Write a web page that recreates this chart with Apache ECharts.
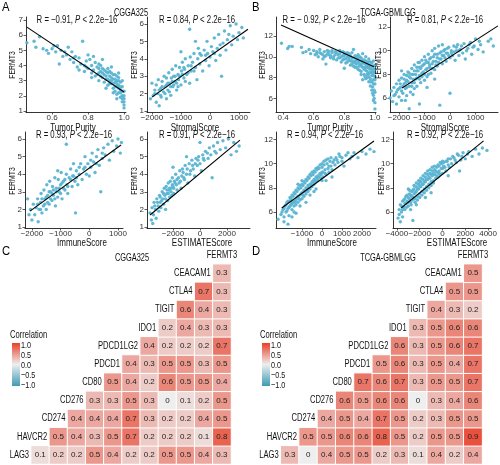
<!DOCTYPE html>
<html><head><meta charset="utf-8">
<script src="https://cdn.jsdelivr.net/npm/echarts/dist/echarts.min.js"></script>
<style>html,body{margin:0;padding:0;background:#fff}#c{width:500px;height:465px}</style>
</head><body><div id="c"></div>
<script>
// ---------------- DATA ----------------
const ptsA1 = [[0.46,5.5],[0.50,5.6],[0.51,5.2],[0.53,5.9],[0.55,5.1],[0.57,5.0],[0.58,4.8],[0.60,5.1],[0.62,4.9],[0.63,5.3],[0.64,4.1],[0.65,5.0],[0.66,4.6],[0.68,4.7],[0.69,5.2],[0.70,4.4],[0.71,4.9],[0.72,4.2],[0.73,4.6],[0.74,3.9],[0.75,4.5],[0.76,4.1],[0.77,5.6],[0.78,4.0],[0.78,3.6],[0.79,4.3],[0.80,3.8],[0.81,4.4],[0.82,3.5],[0.82,4.0],[0.83,3.7],[0.84,4.2],[0.84,3.3],[0.85,3.9],[0.86,3.5],[0.86,3.0],[0.87,4.0],[0.87,3.6],[0.88,3.2],[0.88,3.8],[0.89,3.4],[0.89,2.9],[0.90,3.6],[0.90,3.1],[0.91,3.8],[0.91,2.7],[0.92,3.3],[0.92,3.0],[0.93,3.5],[0.93,2.8],[0.94,3.1],[0.94,2.5],[0.95,3.4],[0.95,2.9],[0.95,2.3],[0.96,3.0],[0.96,2.6],[0.96,2.1],[0.97,3.2],[0.97,2.7],[0.97,2.2],[0.98,2.9],[0.98,2.4],[0.98,1.9],[0.99,2.6],[0.99,2.0],[0.99,1.6],[1.0,2.3],[1.0,1.8],[1.0,1.4],[1.0,1.2],[0.99,3.0],[0.97,3.5],[0.93,3.9],[0.88,4.4],[0.86,4.1],[0.83,4.6],[0.80,4.7],[0.75,3.7],
  [0.85,3.4],[0.86,3.8],[0.87,3.3],[0.88,3.5],[0.89,3.7],[0.90,3.3],[0.91,3.5],[0.91,3.1],[0.92,3.6],[0.92,2.8],[0.93,3.2],[0.93,3.0],[0.94,3.4],[0.94,2.8],[0.95,3.1],[0.95,2.6],[0.96,2.8],[0.96,3.3],[0.97,2.5],[0.97,3.0],[0.98,2.6],[0.98,2.2],[0.99,2.3],[0.99,1.8],[1.0,2.0],[1.0,1.6],[0.94,2.2],[0.96,1.8],[0.90,2.5],[0.82,3.2],[0.79,3.9],[0.72,4.5],[0.67,4.9],[0.61,5.3]];
const ptsA2 = [[-2050,1.7],[-2000,2.6],[-1950,1.9],[-1900,2.2],[-1850,1.5],[-1850,2.5],[-1800,2.0],[-1780,2.8],[-1750,1.3],[-1700,2.3],[-1680,1.8],[-1650,2.7],[-1600,2.1],[-1580,3.0],[-1550,2.4],[-1500,1.7],[-1500,2.9],[-1450,2.2],[-1420,3.2],[-1400,2.6],[-1350,1.9],[-1330,2.9],[-1300,3.4],[-1280,2.4],[-1250,3.0],[-1200,2.7],[-1180,3.6],[-1150,2.2],[-1100,3.1],[-1080,2.8],[-1050,3.5],[-1000,2.5],[-980,3.3],[-950,3.8],[-900,2.9],[-880,3.4],[-850,4.0],[-800,3.1],[-750,3.6],[-700,2.6],[-680,4.1],[-650,3.3],[-600,3.8],[-550,4.3],[-500,3.5],[-450,2.8],[-420,4.0],[-400,4.6],[-350,3.7],[-300,4.2],[-250,3.3],[-200,4.5],[-150,3.9],[-100,5.0],[-80,4.3],[-30,3.6],[0,4.1],[50,4.7],[100,4.4],[150,5.2],[200,3.9],[250,4.6],[300,5.4],[350,4.2],[400,3.0],[450,4.9],[500,5.6],[550,4.5],[600,5.1],[700,5.9],[750,4.8],[800,5.3],[900,6.0],[950,5.1],[1000,5.5],[1100,5.8],[1150,5.2],[-500,5.0],[-1000,4.4],[-700,5.7],
  [-1900,2.0],[-1750,2.2],[-1700,1.9],[-1650,2.4],[-1550,2.0],[-1500,2.5],[-1450,2.6],[-1400,2.1],[-1350,2.4],[-1300,2.7],[-1250,2.5],[-1200,3.0],[-1150,2.6],[-1100,2.4],[-1050,3.0],[-950,3.1],[-900,3.5],[-850,2.7],[-750,3.2],[-650,3.6],[-550,3.3],[-350,4.3],[-150,4.2],[150,4.3],[350,4.8],[650,5.4]];
const ptsA3 = [[-2150,2.6],[-2100,1.7],[-2050,2.0],[-2000,1.4],[-1950,2.3],[-1900,1.7],[-1850,2.1],[-1800,2.6],[-1780,1.3],[-1750,2.0],[-1700,2.4],[-1680,2.9],[-1650,1.8],[-1600,2.2],[-1580,3.1],[-1550,2.6],[-1500,2.0],[-1480,3.4],[-1450,2.8],[-1400,2.3],[-1380,3.6],[-1350,3.0],[-1300,2.5],[-1280,3.3],[-1250,2.8],[-1200,3.8],[-1180,2.2],[-1150,3.2],[-1100,2.7],[-1080,3.7],[-1050,3.0],[-1000,3.4],[-980,4.1],[-950,2.6],[-900,3.6],[-850,3.1],[-800,4.0],[-780,3.4],[-750,2.9],[-700,3.8],[-650,4.3],[-600,3.3],[-580,3.9],[-550,4.6],[-500,3.6],[-480,1.8],[-450,4.2],[-400,3.4],[-350,4.0],[-300,4.6],[-250,3.7],[-200,4.3],[-150,5.0],[-100,4.0],[-50,4.6],[0,3.9],[50,4.4],[100,5.2],[150,4.7],[200,4.1],[250,5.0],[300,5.4],[350,4.5],[400,3.0],[450,4.9],[500,5.5],[550,5.1],[650,5.7],[700,4.8],[800,5.9],[850,5.3],[950,5.6],[1000,6.0],[1080,5.2],[1120,5.8],[-800,5.7],[-1100,4.2],
  [-1800,2.3],[-1700,2.0],[-1650,2.6],[-1550,2.3],[-1500,2.7],[-1450,2.4],[-1400,3.0],[-1350,2.6],[-1300,2.9],[-1250,3.1],[-1200,2.6],[-1150,3.0],[-1050,3.2],[-1000,2.9],[-950,3.5],[-900,3.2],[-850,3.7],[-750,3.3],[-650,3.7],[-550,3.9],[-450,3.8],[-350,4.4],[-150,4.4],[50,4.8],[250,4.6],[450,5.2]];
const ptsA4 = [[-3700,1.8],[-3600,1.4],[-3550,2.1],[-3450,1.7],[-3400,2.4],[-3300,2.0],[-3250,1.5],[-3200,2.6],[-3100,2.2],[-3050,1.9],[-3000,2.8],[-2950,2.4],[-2900,2.1],[-2800,3.0],[-2750,2.6],[-2700,2.3],[-2650,3.2],[-2600,2.8],[-2550,2.0],[-2500,3.3],[-2450,2.9],[-2400,2.5],[-2350,3.5],[-2300,3.1],[-2250,2.7],[-2200,3.6],[-2150,3.2],[-2100,2.8],[-2050,3.8],[-2000,3.3],[-1950,2.9],[-1900,3.6],[-1800,4.0],[-1750,3.4],[-1700,3.1],[-1600,3.8],[-1500,4.2],[-1450,3.6],[-1400,3.2],[-1300,4.3],[-1200,3.8],[-1100,4.5],[-1000,4.0],[-900,3.5],[-800,4.6],[-700,4.2],[-600,4.8],[-500,4.3],[-400,3.9],[-300,4.9],[-200,4.5],[-100,5.0],[0,4.6],[100,4.2],[200,5.1],[300,4.8],[400,5.3],[600,4.9],[700,5.5],[800,5.1],[900,3.8],[1000,5.6],[1200,5.2],[1300,5.8],[1500,5.4],[1700,5.9],[1900,5.5],[2100,6.0],[2300,5.1],[2500,5.8],[2700,5.3],[2900,5.6],[-3500,1.2],[-2000,4.4],[-1000,5.0],[0,5.8],
  [-3350,2.2],[-3150,2.4],[-2950,2.7],[-2850,2.5],[-2700,2.9],[-2550,2.6],[-2450,3.1],[-2350,2.9],[-2250,3.2],[-2150,3.0],[-2050,3.4],[-1950,3.2],[-1850,3.5],[-1700,3.7],[-1550,3.5],[-1350,3.9],[-1250,4.1],[-1150,3.7],[-950,4.3],[-750,4.0],[-550,4.5],[-350,4.6],[-150,4.8],[250,4.9],[550,5.2],[1100,5.3]];
const ptsB1 = [[0.39,11.3],[0.43,10.8],[0.44,11.0],[0.46,11.0],[0.52,10.9],[0.53,10.4],[0.55,10.5],[0.57,10.7],[0.58,10.3],[0.60,10.6],[0.61,10.2],[0.62,10.5],[0.63,10.0],[0.64,10.7],[0.65,10.3],[0.66,9.8],[0.67,10.5],[0.68,10.1],[0.69,10.6],[0.70,10.2],[0.71,9.9],[0.72,10.4],[0.73,10.0],[0.74,10.5],[0.75,9.7],[0.76,10.2],[0.77,9.9],[0.77,10.6],[0.78,9.5],[0.79,10.1],[0.80,9.8],[0.80,10.4],[0.81,9.4],[0.82,10.0],[0.83,9.7],[0.83,10.3],[0.84,9.2],[0.85,9.9],[0.85,10.4],[0.86,9.5],[0.87,9.0],[0.87,10.1],[0.88,9.7],[0.88,9.3],[0.89,10.2],[0.89,8.8],[0.90,9.6],[0.90,9.1],[0.91,9.9],[0.91,8.6],[0.92,9.4],[0.92,10.3],[0.93,9.0],[0.93,9.7],[0.93,8.3],[0.94,9.3],[0.94,10.0],[0.94,8.7],[0.95,8.0],[0.95,9.5],[0.95,9.0],[0.96,8.4],[0.96,9.8],[0.96,7.6],[0.96,9.2],[0.97,8.8],[0.97,7.9],[0.97,9.5],[0.97,7.2],[0.98,8.5],[0.98,9.1],[0.98,6.8],[0.98,7.6],[0.99,8.2],[0.99,9.6],[0.99,6.3],[0.99,7.4],[0.99,8.8],[1.0,5.6],[1.0,6.6],[1.0,7.8],[1.0,8.5],[1.0,9.2],[1.0,5.0],[0.995,6.0],[0.985,7.1],[0.92,7.8],[0.80,8.9],[0.68,9.3],[0.86,10.7],[0.90,10.0],
  [0.62,10.3],[0.64,10.4],[0.66,10.2],[0.67,10.0],[0.69,10.3],[0.70,10.5],[0.71,10.1],[0.72,10.6],[0.73,9.8],[0.74,10.2],[0.75,10.4],[0.76,9.9],[0.77,10.3],[0.78,10.0],[0.79,9.7],[0.79,10.5],[0.80,10.1],[0.81,9.8],[0.81,10.3],[0.82,9.5],[0.82,10.4],[0.83,9.9],[0.84,9.6],[0.84,10.1],[0.85,9.3],[0.85,9.6],[0.86,9.9],[0.86,9.1],[0.87,9.6],[0.87,9.4],[0.88,10.0],[0.88,9.0],[0.89,9.5],[0.89,9.8],[0.90,9.3],[0.90,8.7],[0.91,9.6],[0.91,9.2],[0.92,9.0],[0.92,9.7],[0.93,9.4],[0.93,8.8],[0.94,9.0],[0.94,9.6],[0.95,8.6],[0.95,9.2],[0.96,8.9],[0.96,9.5],[0.97,8.5],[0.97,9.1],[0.98,8.2],[0.98,8.8],[0.98,9.4],[0.99,7.8],[0.99,8.5],[0.99,9.1],[1.0,7.4],[1.0,8.1],[1.0,8.8],[0.995,6.8],[0.99,5.8],[0.985,6.5],[0.97,7.6],[0.96,8.1],[0.95,8.3],[0.94,7.9],[0.935,8.1],[0.91,8.3]];
const ptsB2 = [[-2350,6.0],[-2300,6.6],[-2250,5.7],[-2200,6.9],[-2150,6.3],[-2100,5.5],[-2100,7.2],[-2050,6.7],[-2000,6.1],[-2000,7.5],[-1950,6.9],[-1900,5.8],[-1900,7.7],[-1850,6.4],[-1800,7.2],[-1800,8.0],[-1750,6.8],[-1700,7.5],[-1700,6.2],[-1650,8.2],[-1600,7.0],[-1600,7.8],[-1550,6.5],[-1500,8.5],[-1500,7.3],[-1450,8.0],[-1400,6.8],[-1400,8.8],[-1350,7.6],[-1300,8.3],[-1300,7.0],[-1250,9.0],[-1200,7.9],[-1200,8.6],[-1150,7.3],[-1100,9.2],[-1100,8.1],[-1050,8.8],[-1000,7.5],[-1000,9.5],[-950,8.4],[-900,9.0],[-900,7.8],[-850,9.7],[-800,8.6],[-800,9.3],[-750,8.1],[-700,10.0],[-700,8.9],[-650,9.5],[-600,8.4],[-600,10.2],[-550,9.1],[-500,9.7],[-500,8.7],[-450,10.4],[-400,9.3],[-350,9.9],[-300,8.9],[-300,10.5],[-250,9.6],[-200,10.1],[-150,9.1],[-100,9.8],[-50,10.3],[0,9.4],[0,6.4],[50,10.0],[100,9.6],[150,10.4],[200,9.2],[250,10.0],[300,10.5],[350,9.6],[400,10.1],[500,9.8],[550,10.6],[600,9.3],[700,10.2],[800,10.7],[850,9.7],[900,10.3],[1000,11.0],[1100,10.1],[1200,10.5],[1300,9.9],[1500,10.8],[1600,11.0],[1700,10.4],[-1600,5.1],[-1200,5.5],[-400,5.4],[-1900,8.3],
  [-2200,6.2],[-2100,6.5],[-2000,6.8],[-1950,7.2],[-1900,6.6],[-1850,7.0],[-1800,7.6],[-1750,7.3],[-1700,6.9],[-1700,7.9],[-1650,7.4],[-1600,8.1],[-1550,7.7],[-1500,7.0],[-1500,8.0],[-1450,7.6],[-1400,8.3],[-1400,7.3],[-1350,8.0],[-1300,8.6],[-1300,7.7],[-1250,8.3],[-1200,7.6],[-1200,9.0],[-1150,8.5],[-1100,7.8],[-1100,8.7],[-1050,8.2],[-1000,8.9],[-1000,8.0],[-950,9.2],[-900,8.5],[-850,8.0],[-850,9.0],[-800,8.8],[-750,9.4],[-700,8.5],[-650,9.1],[-600,9.7],[-550,8.8],[-500,9.4],[-450,9.0],[-400,9.8],[-350,9.3],[-300,9.6],[-250,10.0],[-200,9.4],[-150,9.8],[-100,10.2],[-50,9.6],[50,9.8],[150,9.9],[250,10.3],[350,10.0],[450,10.4],[650,10.0],[750,10.5],[950,10.4],[1150,10.8],[-1750,5.8],[-1450,6.3],[-900,6.9],[-600,7.6]];
const ptsB3 = [[-2200,5.4],[-2050,5.8],[-1950,6.2],[-1900,5.6],[-1850,6.5],[-1800,6.0],[-1750,6.8],[-1700,6.3],[-1650,5.7],[-1600,6.9],[-1600,6.5],[-1550,7.1],[-1500,6.2],[-1500,6.7],[-1450,7.3],[-1400,6.9],[-1400,6.5],[-1350,7.5],[-1300,7.0],[-1300,6.6],[-1250,7.7],[-1200,7.3],[-1200,6.8],[-1150,7.9],[-1100,7.4],[-1100,7.0],[-1050,8.0],[-1000,7.6],[-1000,7.1],[-950,8.2],[-900,7.8],[-900,7.3],[-850,8.4],[-800,8.0],[-800,7.5],[-750,8.6],[-700,8.2],[-700,7.7],[-650,8.8],[-600,8.3],[-600,7.9],[-550,9.0],[-500,8.5],[-500,8.1],[-450,9.1],[-400,8.7],[-400,8.3],[-350,9.3],[-300,8.9],[-300,8.5],[-250,9.5],[-200,9.0],[-200,8.6],[-150,9.6],[-100,9.2],[-50,8.8],[0,9.7],[0,9.3],[50,8.9],[100,9.9],[150,9.5],[200,9.1],[250,10.0],[300,9.6],[350,9.3],[400,10.2],[450,9.8],[500,9.5],[600,10.3],[650,9.9],[700,10.5],[800,10.1],[900,10.6],[1000,10.2],[1100,9.8],[1200,10.7],[1400,10.4],[1600,10.9],[1800,10.5],[2000,11.0],[2200,10.8],[2400,11.2],[2600,11.0],[-1700,5.0],[-1500,5.6],[-1200,8.3],[-800,6.8],[-300,7.9],[200,8.6],[500,8.9],[-1000,8.6],
  [-2000,6.0],[-1900,6.3],[-1800,6.6],[-1750,6.1],[-1700,6.9],[-1650,6.4],[-1600,7.2],[-1550,6.6],[-1500,7.4],[-1450,6.8],[-1400,7.6],[-1350,6.8],[-1300,7.8],[-1250,7.2],[-1200,8.0],[-1150,7.1],[-1100,8.2],[-1050,7.5],[-1000,8.3],[-950,7.4],[-900,8.5],[-850,7.7],[-800,8.7],[-750,7.9],[-700,8.9],[-650,8.0],[-600,9.1],[-550,8.3],[-500,9.3],[-450,8.5],[-400,9.4],[-350,8.6],[-300,9.6],[-250,8.8],[-200,9.7],[-150,8.9],[-100,9.9],[-50,9.1],[0,10.0],[50,9.3],[100,10.2],[150,9.2],[200,10.3],[300,10.4],[350,9.8],[450,10.5],[550,10.1],[750,10.3],[850,10.8],[1000,10.5],[1300,10.9],[1500,10.6],[-1100,6.5],[-600,7.4],[-1400,6.0],[-1900,5.2],[-1300,5.9],[0,8.6],[-400,7.7]];
const ptsB4 = [[-3900,5.5],[-3800,6.2],[-3700,6.6],[-3600,6.0],[-3500,6.9],[-3400,6.4],[-3300,7.1],[-3300,6.2],[-3200,6.7],[-3100,7.4],[-3100,6.9],[-3000,6.5],[-2900,7.5],[-2900,7.1],[-2800,6.8],[-2700,7.7],[-2700,7.3],[-2600,7.0],[-2500,7.9],[-2500,7.5],[-2400,7.1],[-2300,8.1],[-2300,7.7],[-2200,7.3],[-2100,8.3],[-2100,7.9],[-2000,7.5],[-1900,8.5],[-1900,8.1],[-1800,7.7],[-1700,8.7],[-1700,8.3],[-1600,7.9],[-1500,8.9],[-1500,8.5],[-1400,8.1],[-1300,9.1],[-1300,8.7],[-1200,8.3],[-1100,9.2],[-1100,8.8],[-1000,8.5],[-900,9.4],[-900,9.0],[-800,8.6],[-700,9.5],[-700,9.1],[-600,8.8],[-500,9.7],[-500,9.3],[-400,8.9],[-300,9.8],[-300,9.4],[-200,9.1],[-100,10.0],[0,9.6],[0,9.2],[100,10.1],[200,9.7],[300,9.4],[400,10.2],[500,9.9],[700,10.4],[800,10.0],[1000,10.5],[1200,10.1],[1400,10.7],[1600,10.3],[1800,10.9],[2000,10.4],[2300,11.0],[2600,10.6],[2900,11.2],[3200,10.8],[3500,11.3],[3900,11.1],[-3700,5.2],[-2600,5.3],[-2000,8.5],[-1000,7.6],[-3000,7.9],[500,9.0],[1500,9.4],
  [-3800,5.8],[-3600,6.5],[-3500,6.2],[-3400,7.0],[-3300,6.7],[-3200,7.3],[-3150,6.4],[-3000,7.2],[-3000,6.8],[-2900,7.8],[-2800,7.4],[-2750,6.6],[-2600,7.8],[-2600,7.2],[-2500,8.2],[-2400,7.6],[-2400,6.8],[-2300,8.4],[-2200,7.9],[-2200,7.0],[-2100,8.6],[-2000,8.1],[-2000,7.2],[-1900,8.8],[-1800,8.3],[-1800,7.4],[-1700,9.0],[-1600,8.5],[-1600,7.6],[-1500,9.2],[-1400,8.7],[-1400,7.8],[-1300,9.4],[-1200,8.9],[-1200,8.0],[-1100,9.5],[-1000,9.1],[-1000,8.2],[-900,9.7],[-800,9.2],[-800,8.4],[-700,9.8],[-600,9.4],[-500,9.0],[-400,9.9],[-300,9.2],[-200,10.1],[-100,9.6],[0,10.2],[100,9.8],[300,10.2],[500,10.4],[600,9.7],[900,10.6],[1100,10.3],[1300,10.8],[1700,10.6],[2200,10.8],[-3500,5.6],[-2800,6.2],[-2300,6.6],[-1500,7.2]];

// regression line end points
const fitA1 = [[0.46,6.53],[1.0,2.25]];
const fitA2 = [[-2000,1.8],[1310,5.7]];
const fitA3 = [[-2066,1.9],[1105,5.66]];
const fitA4 = [[-3700,1.68],[2960,5.94]];
const fitB1 = [[0.387,13.06],[0.994,9.05]];
const fitB2 = [[-1880,6.85],[1880,12.1]];
const fitB3 = [[-2017,6.33],[2600,11.88]];
const fitB4 = [[-3630,6.33],[3600,11.88]];

const rValues = ['\u22120.91','0.84','0.93','0.91','\u2212 0.92','0.81','0.94','0.92'];
const xNames = ['Tumor Purity','StromalScore','ImmuneScore','ESTIMATEScore','Tumor Purity','StromalScore','ImmuneScore','ESTIMATEScore'];
const yName = 'FERMT3';
const xTicksA1 = [0.6,0.8,1.0];
const xTicksA2 = [-2000,-1000,0,1000];
const xTicksA3 = [-2000,-1000,0,1000];
const xTicksA4 = [-2000,0,2000];
const xTicksB1 = [0.4,0.6,0.8,1.0];
const xTicksB2 = [-2000,-1000,0,1000];
const xTicksB3 = [-2000,-1000,0,1000,2000];
const xTicksB4 = [-4000,-2000,0,2000,4000];
const yTicksA1 = [1,2,3,4,5,6,7];
const yTicksA = [1,2,3,4,5,6];
const yTicksB = [6,8,10,12];

const genes = ['LAG3','HAVCR2','CD274','CD276','CD80','PDCD1','PDCD1LG2','IDO1','TIGIT','CTLA4','CEACAM1','FERMT3'];
const corrCGGA = [
  [0.1,0.2,0.2,0.5,0.4,0.2,0.2,0.5,0.5,0.4,0.3],
  [0.5,0.4,0.3,0.5,0.7,0.2,0.2,0.2,0.1,0.8],
  [0.4,0.4,0.4,0.7,0.3,0.2,0.2,0.4,0.5],
  [0.3,0.3,0.5,0.3,0,0.1,0.2,0.5],
  [0.5,0.4,0.2,0.6,0.5,0.5,0.4],
  [0.4,0.3,0.5,0.5,0.3,0.5],
  [0.4,0.2,0.2,0.2,0.7],
  [0.2,0.4,0.3,0.3],
  [0.6,0.4,0.3],
  [0.7,0.3],
  [0.3]
];
const corrTCGA = [
  [0.3,0,0.4,0.5,0.5,0.2,0.3,0.1,0.4,0.2,0.4],
  [0.5,0.5,0.6,0.6,0.8,0.5,0.2,0.5,0.5,0.9],
  [0.4,0.5,0.4,0.7,0.5,0.2,0.3,0.5,0.5],
  [0.6,0.5,0.6,0.6,0,0.3,0.4,0.6],
  [0.7,0.6,0.7,0.3,0.5,0.5,0.7],
  [0.5,0.6,0.3,0.5,0.4,0.7],
  [0.6,0.3,0.5,0.6,0.7],
  [0.3,0.5,0.6,0.6],
  [0.4,0.3,0.2],
  [0.5,0.5],
  [0.5]
];
const legendTicks = ['1.0','0.5','0.0','\u22120.5','\u22121.0'];

// ---------------- LAYOUT / STYLE ----------------
const F = "'Liberation Sans',Arial,sans-serif";
const PT = '#5ab4d2';
const panels = [
  {pts:ptsA1, fit:fitA1, xt:xTicksA1, yt:yTicksA1, dec:1, g:{left:26,top:17,width:100,height:95}, xr:[0.455,1.011], yr:[0.93,7.2], t:[77,20], xn:[73,128], yn:[12,65]},
  {pts:ptsA2, fit:fitA2, xt:xTicksA2, yt:yTicksA, dec:0, g:{left:147,top:17,width:103,height:95}, xr:[-2170,1380], yr:[0.943,6.40], t:[197,20], xn:[195,128], yn:[134,65]},
  {pts:ptsA3, fit:fitA3, xt:xTicksA3, yt:yTicksA, dec:0, g:{left:25,top:132,width:98,height:96}, xr:[-2240,1174], yr:[0.943,6.40], t:[74,135], xn:[82,243], yn:[12,181]},
  {pts:ptsA4, fit:fitA4, xt:xTicksA4, yt:yTicksA, dec:0, g:{left:147,top:132,width:103,height:96}, xr:[-3926,3704], yr:[0.943,6.40], t:[197,135], xn:[202,243], yn:[134,181]},
  {pts:ptsB1, fit:fitB1, xt:xTicksB1, yt:yTicksB, dec:1, g:{left:276,top:17,width:100,height:95}, xr:[0.354,1.007], yr:[4.70,13.82], t:[324,20], xn:[330,128], yn:[262,65]},
  {pts:ptsB2, fit:fitB2, xt:xTicksB2, yt:yTicksB, dec:0, g:{left:390,top:17,width:108,height:95}, xr:[-2353,1882], yr:[4.82,12.85], t:[445,20], xn:[445,128], yn:[378,65]},
  {pts:ptsB3, fit:fitB3, xt:xTicksB3, yt:yTicksB, dec:0, g:{left:276,top:132,width:100,height:96}, xr:[-2300,2700], yr:[4.68,12.62], t:[325,135], xn:[332,243], yn:[262,181]},
  {pts:ptsB4, fit:fitB4, xt:xTicksB4, yt:yTicksB, dec:0, g:{left:393,top:132,width:105,height:96}, xr:[-4344,4262], yr:[4.68,12.62], t:[445,135], xn:[457,243], yn:[381,181]}
];
const heatGrids = [
  {g:{left:13,top:246,width:218,height:218}, corr:corrCGGA, title:'CGGA325', tx:132, lx:10},
  {g:{left:262.5,top:246,width:219.6,height:218}, corr:corrTCGA, title:'TCGA-GBMLGG', tx:388, lx:260}
];

// narrow text helper (graphic text, horizontally condensed like the reference)
function T(x, y, text, o) {
  o = o || {};
  return {type:'text', x:x, y:y, rotation:o.rot || 0, scaleX:o.sx || 0.78, z:20, silent:true,
    style:{text:text, fontSize:o.fs || 10, fontFamily:o.ff || F, fill:o.fill || '#111',
      align:o.align || 'center', verticalAlign:o.va || 'middle', rich:o.rich}};
}
const fmt = dec => v => (dec ? v.toFixed(dec) : String(Math.round(v))).replace('-', '\u2212');

const grid = [], xAxis = [], yAxis = [], series = [], graphic = [];
panels.forEach((p, i) => {
  grid.push(p.g);
  const common = {
    type:'value', gridIndex:i,
    axisLine:{show:true, onZero:false, lineStyle:{color:'#000', width:0.8}},
    splitLine:{show:false}
  };
  xAxis.push(Object.assign({}, common, {
    min:p.xr[0], max:p.xr[1],
    axisTick:{show:true, length:2.5, customValues:p.xt, lineStyle:{color:'#333', width:0.8}},
    axisLabel:{customValues:p.xt, fontSize:8, color:'#333', margin:2, fontFamily:F, formatter:fmt(p.dec)}
  }));
  yAxis.push(Object.assign({}, common, {
    min:p.yr[0], max:p.yr[1],
    axisTick:{show:true, length:2.5, customValues:p.yt, lineStyle:{color:'#333', width:0.8}},
    axisLabel:{customValues:p.yt, fontSize:8, color:'#333', margin:3, fontFamily:F, formatter:fmt(0)}
  }));
  series.push({type:'scatter', xAxisIndex:i, yAxisIndex:i, data:p.pts, symbolSize:3.4,
    itemStyle:{color:PT, opacity:0.95}, silent:true, animation:false, z:2});
  graphic.push(T(p.t[0], p.t[1], 'R = ' + rValues[i] + ', {i|P} < 2.2e\u221216',
    {fs:10.5, sx:0.74, rich:{i:{fontStyle:'italic', fontSize:10.5, fontFamily:F, fill:'#111'}}}));
  graphic.push(T(p.xn[0], p.xn[1], xNames[i], {fs:10, sx:0.8}));
  graphic.push(T(p.yn[0], p.yn[1], yName, {fs:9.5, sx:0.72, rot:Math.PI / 2}));
});
panels.forEach((p, i) => {
  series.push({type:'line', xAxisIndex:i, yAxisIndex:i, data:p.fit, symbol:'none',
    lineStyle:{color:'#000', width:1.1}, silent:true, animation:false, z:3});
});

const heatSeriesIdx = [];
heatGrids.forEach((h, k) => {
  const gi = panels.length + k;
  grid.push(h.g);
  xAxis.push({type:'category', gridIndex:gi, data:genes, show:false});
  yAxis.push({type:'category', gridIndex:gi, data:genes, show:false});
  const cells = [];
  h.corr.forEach((row, r) => row.forEach((v, c) => cells.push([r + 1 + c, r, v])));
  heatSeriesIdx.push(series.length);
  series.push({type:'heatmap', xAxisIndex:gi, yAxisIndex:gi, data:cells, animation:false,
    itemStyle:{borderColor:'#fff', borderWidth:1},
    label:{show:true, fontSize:8, color:'#222', fontFamily:F, formatter:q => String(q.value[2])}});
  graphic.push(T(h.tx, 258, h.title, {fs:10, sx:0.74}));
  // colour legend
  graphic.push(T(h.lx, 335, 'Correlation', {fs:10, sx:0.76, align:'left'}));
  graphic.push({type:'rect', silent:true, shape:{x:h.lx + 2, y:343, width:8, height:43}, style:{fill:new echarts.graphic.LinearGradient(0,0,0,1,[
    {offset:0, color:'#e8402a'}, {offset:0.5, color:'#eeeeee'}, {offset:1, color:'#3d9bb5'}])}});
  legendTicks.forEach((t, j) => graphic.push(T(h.lx + 11, 345.5 + j * 10, t, {fs:9.5, sx:0.76, align:'left'})));
});

// panel letters and dataset titles
[['A',2,1],['B',252,1],['C',2,245],['D',252,245]].forEach(a =>
  graphic.push(T(a[1], a[2], a[0], {fs:12.5, sx:0.9, align:'left', va:'top', fill:'#000'})));
graphic.push(T(131, 13, 'CGGA325', {fs:10, sx:0.74}));
graphic.push(T(388, 13, 'TCGA-GBMLGG', {fs:10, sx:0.74}));

const chart = echarts.init(document.getElementById('c'), null, {renderer:'canvas'});
chart.setOption({
  animation:false,
  backgroundColor:'#fff',
  grid, xAxis, yAxis, series, graphic,
  visualMap:[{type:'continuous', show:false, min:-1, max:1, dimension:2, seriesIndex:heatSeriesIdx,
    inRange:{color:['#3d9bb5','#eeeeee','#e8402a']}}]
});

// gene labels on the diagonal, placed through the heatmap axes
const diag = [];
heatGrids.forEach((h, k) => {
  const gi = panels.length + k;
  genes.forEach((g, i) => {
    const p = chart.convertToPixel({xAxisIndex:gi, yAxisIndex:gi}, [i, i]);
    const last = i === genes.length - 1;
    diag.push(T(last ? p[0] : p[0] + 7, p[1], g, {fs:10, sx:0.76, align:last ? 'center' : 'right'}));
  });
});
chart.setOption({graphic: graphic.concat(diag)});
</script>
</body></html>
